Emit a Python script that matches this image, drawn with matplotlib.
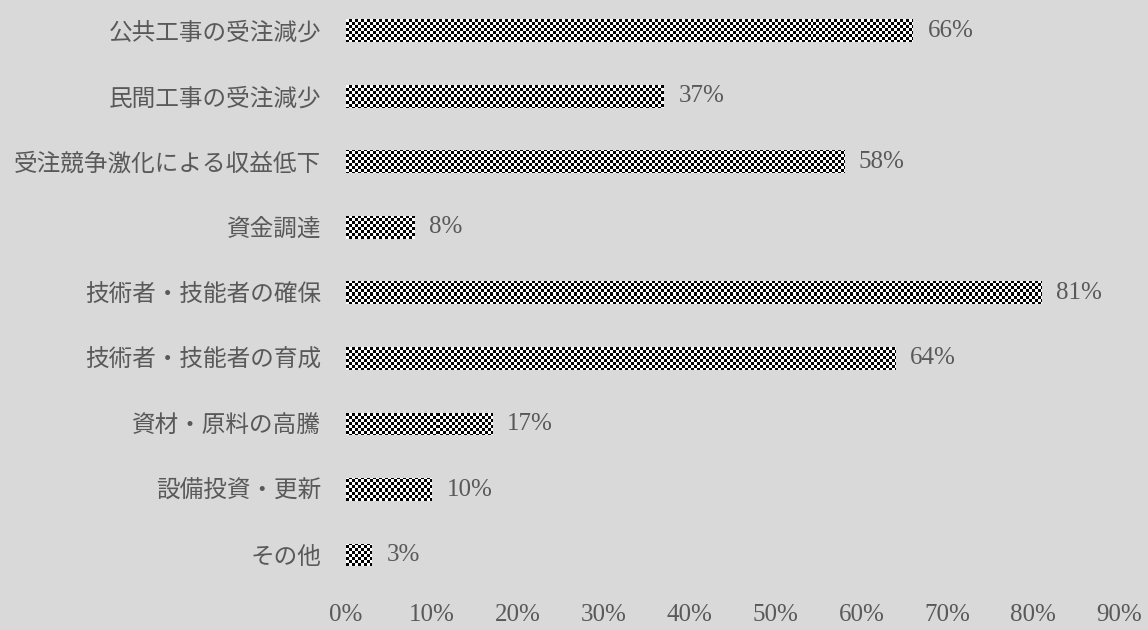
import numpy as np
import matplotlib
matplotlib.use("Agg")
import matplotlib.pyplot as plt

plt.rcParams['font.family'] = ['Liberation Serif', 'Noto Sans CJK JP']

# survey answers (share of respondents)
categories = ["公共工事の受注減少", "民間工事の受注減少", "受注競争激化による収益低下",
              "資金調達", "技術者・技能者の確保", "技術者・技能者の育成",
              "資材・原料の高騰", "設備投資・更新", "その他"]
values = [0.66, 0.37, 0.58, 0.08, 0.81, 0.64, 0.17, 0.10, 0.03]
xticks = [0, 0.1, 0.2, 0.3, 0.4, 0.5, 0.6, 0.7, 0.8, 0.9]

bg = "#d9d9d9"
txt = "#595959"

fig = plt.figure(figsize=(11.48, 6.3), dpi=100, facecolor=bg)
ax = fig.add_axes([0.3014, 0.067, 0.6734, 0.936])
ax.set_facecolor(bg)

y = np.arange(len(categories))
bars = ax.barh(y, values, height=0.35, color="white", edgecolor="none")

ax.set_xlim(0, 0.9)
ax.set_ylim(len(categories) - 0.5, -0.5)

# small checkerboard fill, clipped to each bar
ny, nx = 196, 258
checker = (np.add.outer(np.arange(ny), np.arange(nx)) % 2).astype(float)
for b in bars:
    im = ax.imshow(checker, cmap="gray", extent=(0, 0.9, len(categories) - 0.5, -0.5),
                   interpolation="nearest", aspect="auto", zorder=3)
    im.set_clip_path(b)

for yi, v in zip(y, values):
    ax.text(v + 0.017, yi, f"{v * 100:.0f}%", va="center", ha="left",
            fontsize=18, color=txt)

ax.set_yticks(y)
ax.set_yticklabels(categories, fontsize=17, color=txt)
ax.set_xticks(xticks)
ax.set_xticklabels([f"{t * 100:.0f}%" for t in xticks], fontsize=18, color=txt)
ax.tick_params(axis="both", length=0)
ax.tick_params(axis="y", pad=18)
ax.tick_params(axis="x", pad=12)
for s in ax.spines.values():
    s.set_visible(False)

fig.savefig("out.png", dpi=100, facecolor=bg)
